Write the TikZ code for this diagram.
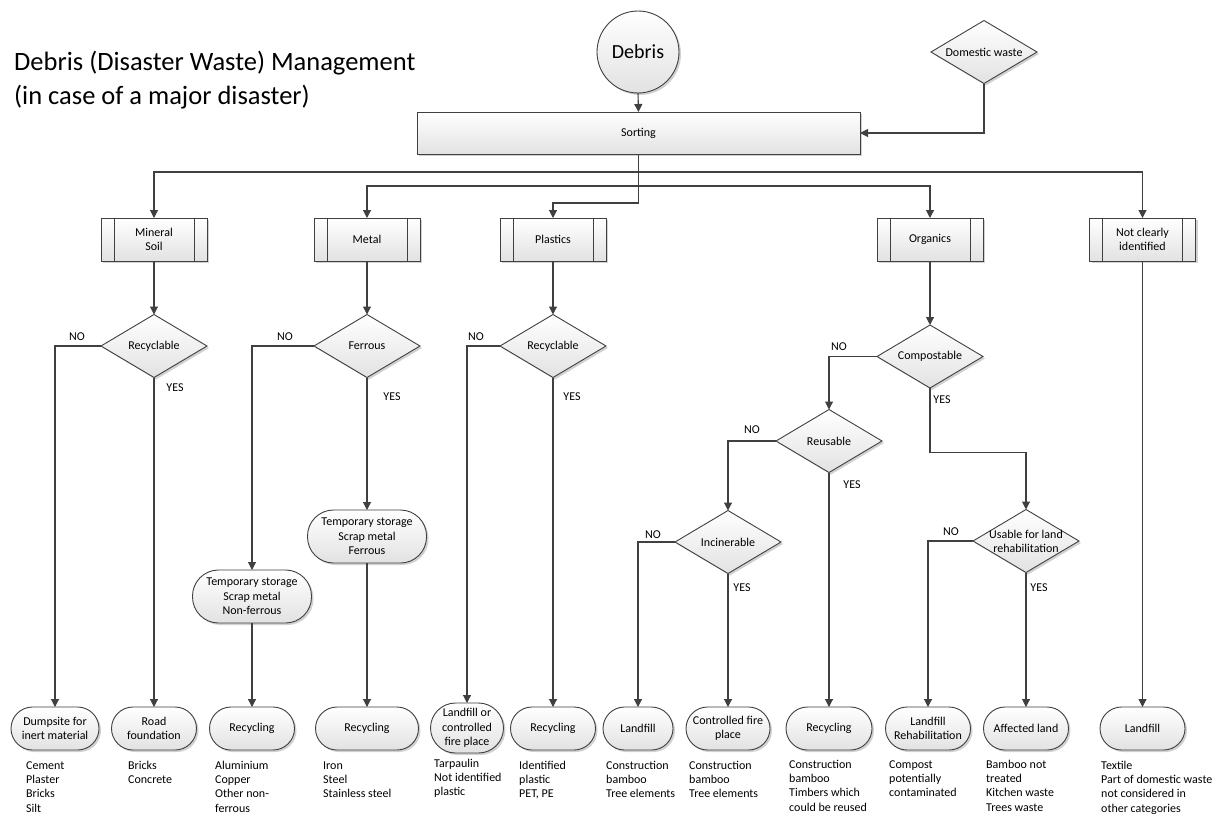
\documentclass[tikz,border=0pt]{standalone}
\usepackage{fontspec}
\setmainfont{Carlito}
\usetikzlibrary{shapes.geometric,shadows,arrows.meta}
\definecolor{lc}{HTML}{404040}
\definecolor{fillb}{HTML}{E2E2E2}
\begin{document}
\begin{tikzpicture}[x=1pt,y=-1pt,
  base/.style={draw=lc, line width=0.9pt, top color=white, bottom color=fillb,
    drop shadow={shadow xshift=2pt, shadow yshift=-2pt, fill=black, opacity=0.18},
    font=\fontsize{12}{14.5}\selectfont, align=center, inner sep=2pt, outer sep=0pt},
  proc/.style={base, rectangle, minimum width=106pt, minimum height=43pt},
  dec/.style={base, diamond, minimum width=106pt, minimum height=63pt, inner sep=0pt},
  term/.style={base, rectangle, rounded corners=21.5pt, minimum height=43pt},
  store/.style={base, rectangle, rounded corners=26pt, minimum width=119pt, minimum height=53pt},
  arr/.style={draw=lc, line width=1.1pt, -{Triangle[length=8pt,width=8pt]}},
  yn/.style={font=\fontsize{12}{14}\selectfont, inner sep=0pt, align=center},
  note/.style={anchor=north west, align=left, inner sep=0pt, font=\fontsize{12}{14.3}\selectfont}
]
\useasboundingbox (0,0) rectangle (1217,814);
\fill[white] (0,0) rectangle (1217,814);

% heading
\node[anchor=west, align=left, inner sep=0pt, font=\fontsize{26.5}{34}\selectfont] (title) at (14,80)
  {Debris (Disaster Waste) Management\\(in case of a major disaster)};

% inputs and sorting
\node[base, circle, minimum size=82pt, font=\fontsize{20}{24}\selectfont] (debris) at (638,52) {Debris};
\node[dec, label={[yn]center:Domestic waste}] (dom) at (984,52) {};
\node[proc, minimum width=443pt, minimum height=42pt] (sorting) at (638.5,133) {Sorting};

% waste categories (predefined process boxes)
\node[proc] (cm) at (154,239.5) {Mineral\\Soil};
\node[proc] (cmt) at (367,239.5) {Metal};
\node[proc] (cp) at (553,239.5) {Plastics};
\node[proc] (co) at (930,239.5) {Organics};
\node[proc] (cn) at (1142.5,239.5) {Not clearly\\identified};
\foreach \n in {cm,cmt,cp,co,cn}{
  \draw[lc, line width=0.9pt] ([xshift=13pt]\n.north west) -- ([xshift=13pt]\n.south west);
  \draw[lc, line width=0.9pt] ([xshift=-13pt]\n.north east) -- ([xshift=-13pt]\n.south east);
}

% decisions
\node[dec, label={[yn]center:Recyclable}] (d1) at (154,346) {};
\node[dec, label={[yn]center:Ferrous}] (d2) at (367,346) {};
\node[dec, label={[yn]center:Recyclable}] (d3) at (553,346) {};
\node[dec, label={[yn]center:Compostable}] (d4) at (930,356.5) {};
\node[dec, label={[yn]center:Reusable}] (d5) at (829,441) {};
\node[dec, label={[yn]center:Incinerable}] (d6) at (728,542) {};
\node[dec, label={[yn]center:Usable for land\\rehabilitation}] (d7) at (1026,541) {};

% temporary storage
\node[store] (tf) at (367,536.5) {Temporary storage\\Scrap metal\\Ferrous};
\node[store] (tn) at (252,596.5) {Temporary storage\\Scrap metal\\Non-ferrous};

% final destinations
\node[term, minimum width=88pt] (t1) at (55,728.5) {Dumpsite for\\inert material};
\node[term, minimum width=85pt] (t2) at (154,728.5) {Road\\foundation};
\node[term, minimum width=85pt] (t3) at (252,728.5) {Recycling};
\node[term, minimum width=103pt] (t4) at (367,728.5) {Recycling};
\node[term, minimum width=73pt, minimum height=50pt, rounded corners=25pt] (t5) at (467,728) {Landfill or\\controlled\\fire place};
\node[term, minimum width=85pt] (t6) at (553,728.5) {Recycling};
\node[term, minimum width=70pt] (t7) at (638,728.5) {Landfill};
\node[term, minimum width=84pt] (t8) at (728,728.5) {Controlled fire\\place};
\node[term, minimum width=86pt] (t9) at (829,728.5) {Recycling};
\node[term, minimum width=85pt] (t10) at (928,728.5) {Landfill\\Rehabilitation};
\node[term, minimum width=85pt] (t11) at (1026,728.5) {Affected land};
\node[term, minimum width=85pt] (t12) at (1142.5,728.5) {Landfill};

% connectors from the inputs
\draw[arr] (debris.south) -- (sorting.north);
\draw[arr] (dom.south) |- (sorting.east);
\draw[arr] (sorting.south) -- ++(0,18) -| (cm.north);
\draw[arr] (sorting.south) -- ++(0,18) -| (cn.north);
\draw[arr] (sorting.south) -- ++(0,32) -| (cmt.north);
\draw[arr] (sorting.south) -- ++(0,32) -| (co.north);
\draw[arr] (sorting.south) -- ++(0,49) -| (cp.north);

% categories to decisions
\draw[arr] (cm.south) -- (d1.north);
\draw[arr] (cmt.south) -- (d2.north);
\draw[arr] (cp.south) -- (d3.north);
\draw[arr] (co.south) -- (d4.north);
\draw[arr] (cn.south) -- (t12.north);

% mineral soil
\draw[arr] (d1.west) -| (t1.north);
\draw[arr] (d1.south) -- (t2.north);
% metal
\draw[arr] (d2.west) -| (tn.north);
\draw[arr] (d2.south) -- (tf.north);
\draw[arr] (tn.south) -- (t3.north);
\draw[arr] (tf.south) -- (t4.north);
% plastics
\draw[arr] (d3.west) -| (t5.north);
\draw[arr] (d3.south) -- (t6.north);
% organics
\draw[arr] (d4.west) -| (d5.north);
\draw[arr] (d4.south) -- ++(0,64.5) -| (d7.north);
\draw[arr] (d5.west) -| (d6.north);
\draw[arr] (d5.south) -- (t9.north);
\draw[arr] (d6.west) -| (t7.north);
\draw[arr] (d6.south) -- (t8.north);
\draw[arr] (d7.west) -| (t10.north);
\draw[arr] (d7.south) -- (t11.north);

% branch labels
\node[yn] (no1) at (77,337) {NO};
\node[yn] (yes1) at (175,388) {YES};
\node[yn] (no2) at (285,337) {NO};
\node[yn] (yes2) at (392,397) {YES};
\node[yn] (no3) at (476,337) {NO};
\node[yn] (yes3) at (572,397) {YES};
\node[yn] (no4) at (839,347) {NO};
\node[yn] (yes4) at (942,400) {YES};
\node[yn] (no5) at (752,430) {NO};
\node[yn] (yes5) at (852,485) {YES};
\node[yn] (no6) at (653,535) {NO};
\node[yn] (yes6) at (742,588) {YES};
\node[yn] (no7) at (951,532) {NO};
\node[yn] (yes7) at (1039,588) {YES};

% material lists
\node[note] (m1) at (26,759) {\strut Cement\\Plaster\\Bricks\\Silt};
\node[note] (m2) at (128,759) {\strut Bricks\\Concrete};
\node[note] (m3) at (215,759) {\strut Aluminium\\Copper\\Other non-\\ferrous};
\node[note] (m4) at (323,759) {\strut Iron\\Steel\\Stainless steel};
\node[note] (m5) at (434,757) {\strut Tarpaulin\\Not identified\\plastic};
\node[note] (m6) at (519,759) {\strut Identified\\plastic\\PET, PE};
\node[note] (m7) at (606,759) {\strut Construction\\bamboo\\Tree elements};
\node[note] (m8) at (689,759) {\strut Construction\\bamboo\\Tree elements};
\node[note] (m9) at (789,758) {\strut Construction\\bamboo\\Timbers which\\could be reused};
\node[note] (m10) at (889,758) {\strut Compost\\potentially\\contaminated};
\node[note] (m11) at (986,758) {\strut Bamboo not\\treated\\Kitchen waste\\Trees waste};
\node[note] (m12) at (1101,759) {\strut Textile\\Part of domestic waste\\not considered in\\other categories};
\end{tikzpicture}
\end{document}
